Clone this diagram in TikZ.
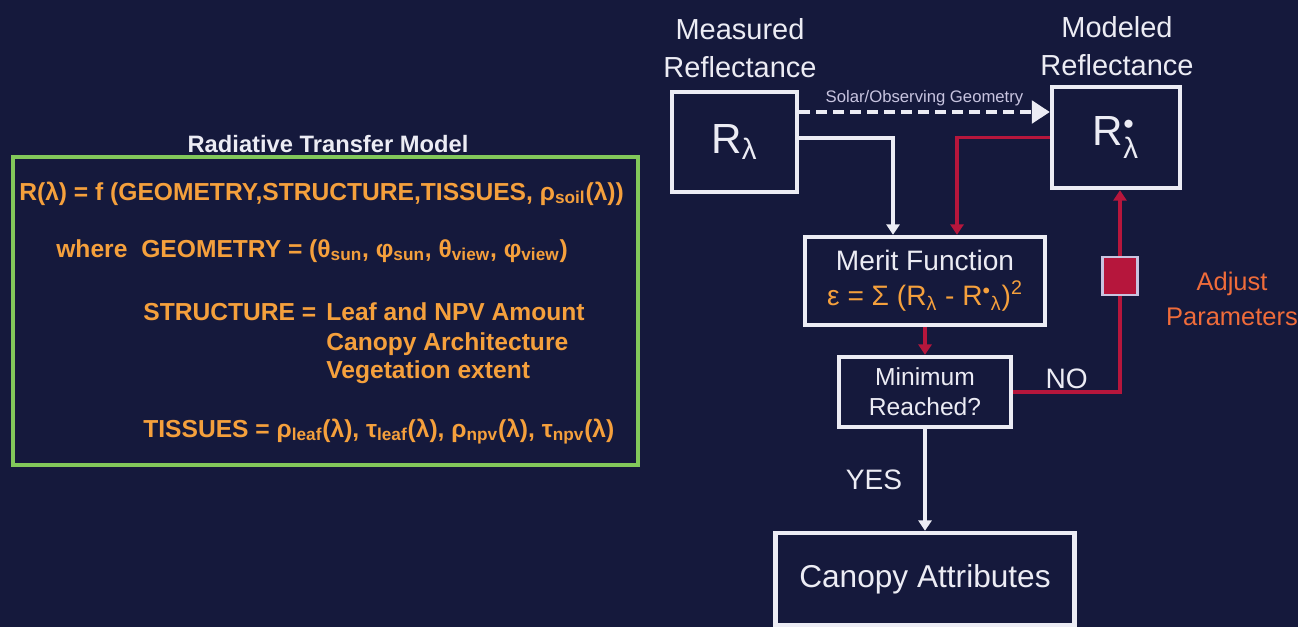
\documentclass[tikz,border=0pt]{standalone}
\usepackage{amsmath}
\usepackage{fontspec}
\setmainfont{Liberation Sans}
\usetikzlibrary{arrows.meta}
\definecolor{bg}{RGB}{21,25,60}
\definecolor{c0}{RGB}{236,236,244}
\definecolor{c1}{RGB}{245,160,60}
\definecolor{c2}{RGB}{182,22,60}
\definecolor{c3}{RGB}{130,200,90}
\definecolor{c4}{RGB}{240,108,58}
\definecolor{c5}{RGB}{200,196,224}
\newcommand\fsz[2]{\fontsize{#1}{#2}\selectfont}
\tikzset{%
  box/.style={draw=c0,line width=2.5pt,inner sep=0pt,text=c0,align=center},
  wline/.style={draw=c0,line width=2.2pt},
  rline/.style={draw=c2,line width=2pt},
  arr/.style={-{Triangle[width=#1,length=0.8*#1]}},
  arr/.default=0.26cm,
  orng/.style={text=c1,font=\bfseries\fsz{14}{16},anchor=base west,inner sep=0pt}
}
\begin{document}
\begin{tikzpicture}[x=0.02cm,y=-0.02cm]
  \fill[bg] (0,0) rectangle (1298,627);
  \useasboundingbox (0,0) rectangle (1298,627);
  %% model
  \node[text=c0,font=\bfseries\fsz{13.5}{16},anchor=base,inner sep=0pt] (title) at (328,152) {Radiative Transfer Model};
  \node[draw=c3,line width=1.8pt,minimum width=12.5cm,minimum height=6.16cm] (frame) at (325.5,311) {};
  \node[orng] (eq) at (19,200) {R(λ) = f (GEOMETRY,STRUCTURE,TISSUES, ρ$_{\text{soil}}$(λ))};
  \node[orng] (wh) at (56,257) {where};
  \node[orng] (geo) at (141,257) {GEOMETRY = (θ$_{\text{sun}}$, φ$_{\text{sun}}$, θ$_{\text{view}}$, φ$_{\text{view}}$)};
  \node[orng] (st) at (143,320) {STRUCTURE =};
  \node[orng] (leaf) at (326,320) {Leaf and NPV Amount};
  \node[orng] (can) at (326,350) {Canopy Architecture};
  \node[orng] (veg) at (326,378) {Vegetation extent};
  \node[orng] (ti) at (143,437) {TISSUES = ρ$_{\text{leaf}}$(λ), τ$_{\text{leaf}}$(λ), ρ$_{\text{npv}}$(λ), τ$_{\text{npv}}$(λ)};
  %% flow
  \node[text=c0,align=center,font=\fsz{16.5}{21.5}] (measlbl) at (740,48) {Measured\\Reflectance};
  \node[text=c0,align=center,font=\fsz{16.5}{21.5}] (modlbl) at (1117,46) {Modeled\\Reflectance};
  \node[box,minimum width=2.5cm,minimum height=2cm,font=\fsz{24}{28}] (meas) at (734.5,142) {R$_{\text{λ}}$};
  \node[box,minimum width=2.56cm,minimum height=2.02cm,font=\fsz{24}{28}] (model) at (1116,137.5) {R$^{\scriptscriptstyle\bullet}_{\text{λ}}$};
  \node[box,minimum width=4.8cm,minimum height=1.76cm,font=\fsz{16}{20}] (merit) at (925,281) {Merit Function\\{\color{c1}ε = Σ (R$_{\text{λ}}$ - R$^{\scriptscriptstyle\bullet}$$_{\text{λ}}$)$^{\text{2}}$}};
  \node[box,minimum width=3.44cm,minimum height=1.4cm,font=\fsz{14}{17}] (minim) at (925,392) {Minimum\\Reached?};
  \node[box,minimum width=5.98cm,minimum height=1.84cm,font=\fsz{18}{22}] (canopy) at (925,579) {Canopy Attributes};
  \node[draw=c5,fill=c2,line width=1.2pt,minimum width=0.7cm,minimum height=0.76cm] (adj) at (1120,276) {};
  \node[text=c4,align=center,font=\fsz{14.5}{20},inner sep=0pt] (adjlbl) at (1232,299) {Adjust\\Parameters};
  %%
  \coordinate (g0) at ([yshift=0.6cm]meas.east);
  \draw[wline,dash pattern=on 0.22cm off 0.12cm,arr=0.45cm] (g0) -- (g0 -| model.west)
    node[midway,above=0.08cm,text=c5,font=\fsz{9.5}{11},inner sep=0pt] (geolbl) {Solar/Observing Geometry};
  \draw[wline,arr] ([yshift=0.08cm]meas.east) -| ([xshift=-0.64cm]merit.north);
  \draw[rline,arr] (model.west) -| ([xshift=0.64cm]merit.north);
  \draw[rline,arr] (merit.south) -- (minim.north);
  \draw[wline,arr] (minim.south) -- (canopy.north)
    node[midway,left=0.3cm,text=c0,font=\fsz{16}{19}] (yes) {YES};
  \draw[rline] (minim.east) -| (adj.south)
    node[pos=0.25,above=0.02cm,text=c0,font=\fsz{16}{19},inner sep=0pt] (no) {NO};
  \draw[rline,arr] (adj.north) -- (adj.north |- model.south);
\end{tikzpicture}
\end{document}
